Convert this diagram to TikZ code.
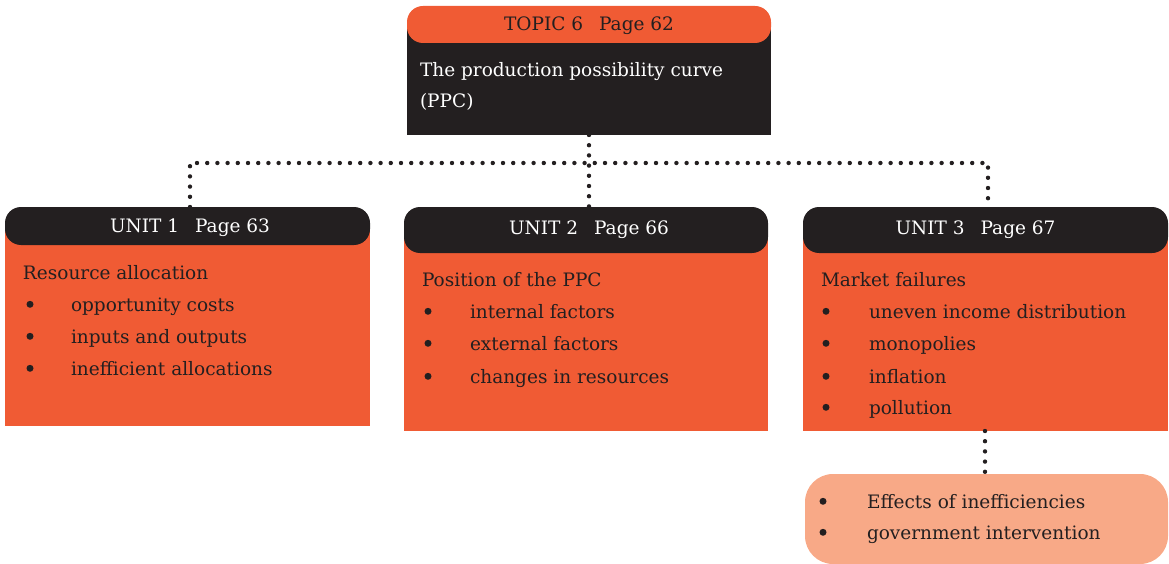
\documentclass[tikz,border=0pt]{standalone}
\usepackage{fontspec}
\setmainfont{DejaVu Serif}
\definecolor{org}{RGB}{240,91,52}
\definecolor{blk}{RGB}{35,31,32}
\definecolor{sal}{RGB}{248,169,135}
\begin{document}
\begin{tikzpicture}[x=1pt,y=-1pt,
  every node/.style={inner sep=0pt,outer sep=0pt},
  txt/.style={anchor=base west,text=blk,font=\fontsize{18.5}{22}\selectfont},
  wtxt/.style={txt,text=white},
  hdr/.style={anchor=base,text=blk,font=\fontsize{18.5}{22}\selectfont},
  whdr/.style={hdr,text=white},
  bul/.style={circle,fill=blk,minimum size=7pt,yshift=6.7pt},
  dotline/.style={draw=blk,line width=4.4pt,line cap=round,dash pattern=on 0pt off 10.2pt}]
\useasboundingbox (0,0) rectangle (1169,564);
% top box
\fill[blk] (407,24) rectangle (771,135);
\fill[org,rounded corners=16pt] (407,6) rectangle (771,43);
\node (top) [minimum width=364pt,minimum height=129pt] at (589,70.5) {};
\node[hdr] (toph) at (589,31) {TOPIC 6\hspace{16pt}Page 62};
\node[wtxt] (topt1) at (420,77) {The production possibility curve};
\node[wtxt] (topt2) at (420,108) {(PPC)};
% unit 1
\fill[org] (5,226) rectangle (370,426);
\fill[blk,rounded corners=16pt] (5,207) rectangle (370,245);
\node (u1) [minimum width=365pt,minimum height=219pt] at (187.5,316.5) {};
\node[whdr] (u1h) at (190,232) {UNIT 1\hspace{16pt}Page 63};
\node[txt] (u1t) at (23,279) {Resource allocation};
\node[bul] (u1b1) at (30,311) {};
\node[txt] (u1a) at (71,311) {opportunity costs};
\node[bul] (u1b2) at (30,343) {};
\node[txt] (u1b) at (71,343) {inputs and outputs};
\node[bul] (u1b3) at (30,375) {};
\node[txt] (u1c) at (71,375) {inefficient allocations};
% unit 2
\fill[org] (404,226) rectangle (768,431);
\fill[blk,rounded corners=16pt] (404,207) rectangle (768,253);
\node (u2) [minimum width=364pt,minimum height=224pt] at (586,319) {};
\node[whdr] (u2h) at (589,234) {UNIT 2\hspace{16pt}Page 66};
\node[txt] (u2t) at (422,286) {Position of the PPC};
\node[bul] (u2b1) at (428,318) {};
\node[txt] (u2a) at (470,318) {internal factors};
\node[bul] (u2b2) at (428,350) {};
\node[txt] (u2b) at (470,350) {external factors};
\node[bul] (u2b3) at (428,383) {};
\node[txt] (u2c) at (470,383) {changes in resources};
% unit 3
\fill[org] (803,226) rectangle (1168,431);
\fill[blk,rounded corners=16pt] (803,207) rectangle (1168,253);
\node (u3) [minimum width=365pt,minimum height=224pt] at (985.5,319) {};
\node[whdr] (u3h) at (975.5,234) {UNIT 3\hspace{16pt}Page 67};
\node[txt] (u3t) at (821,286) {Market failures};
\node[bul] (u3b1) at (826,318) {};
\node[txt] (u3a) at (869,318) {uneven income distribution};
\node[bul] (u3b2) at (826,350) {};
\node[txt] (u3b) at (869,350) {monopolies};
\node[bul] (u3b3) at (826,383) {};
\node[txt] (u3c) at (869,383) {inflation};
\node[bul] (u3b4) at (826,414) {};
\node[txt] (u3d) at (869,414) {pollution};
% bottom box
\node (bot) [fill=sal,rounded corners=28pt,minimum width=363pt,minimum height=90pt] at (986.5,519) {};
\node[bul] (bb1) at (823,508) {};
\node[txt] (ba) at (867,508) {Effects of inefficiencies};
\node[bul] (bb2) at (823,539) {};
\node[txt] (bb) at (867,539) {government intervention};
% connectors
\draw[dotline] (top.south) -- (top.south |- u2.north);
\draw[dotline] (u1.north -| 190,0) -- (190,163) -- (988,163) -- (u3.north -| 988,0);
\draw[dotline] (u3.south -| 985,0) -- (bot.north -| 985,0);
\end{tikzpicture}
\end{document}
